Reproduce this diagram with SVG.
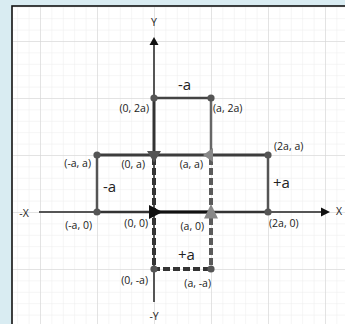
<svg xmlns="http://www.w3.org/2000/svg" width="345" height="324" viewBox="0 0 345 324">
<defs>
<pattern id="minor" patternUnits="userSpaceOnUse" x="40" y="41" width="11.4" height="11.4">
<path d="M0 0V11.4M0 0H11.4" fill="none" stroke="#ebebeb" stroke-width="1"/>
</pattern>
<pattern id="major" patternUnits="userSpaceOnUse" x="40" y="41" width="57" height="57">
<path d="M0 0V57M0 0H57" fill="none" stroke="#d2d2d2" stroke-width="1"/>
</pattern>
<clipPath id="panel"><rect x="13" y="7" width="340" height="330"/></clipPath>
</defs>
<style>
.lbl{font-family:"Open Sans","DejaVu Sans",sans-serif;font-size:10.5px;fill:#222}
.big{font-family:"Open Sans","DejaVu Sans",sans-serif;font-size:15px;fill:#222}
.dot{fill:#555}
.axis{stroke:#555;stroke-width:2;fill:none}
.solid{fill:none;stroke-linecap:butt}
.dash{fill:none;stroke-width:4;stroke-dasharray:7 3}
</style>
<rect x="0" y="0" width="345" height="324" fill="#d9ecf2"/>
<rect x="12" y="6" width="340" height="330" fill="#fff" stroke="#111" stroke-width="1.6"/>
<g clip-path="url(#panel)">
<rect x="13" y="7" width="340" height="330" fill="url(#minor)"/>
<rect x="13" y="7" width="340" height="330" fill="url(#major)"/>
</g>
<g id="axes">
<line class="axis" x1="39" y1="212" x2="323" y2="212"/>
<polygon points="321,207.5 330,212 321,216.5" fill="#111"/>
<line class="axis" x1="154" y1="302" x2="154" y2="44"/>
<polygon points="149.5,45 154,37 158.5,45" fill="#111"/>
<text class="lbl" x="154" y="26" text-anchor="middle">Y</text>
<text class="lbl" x="154" y="320" text-anchor="middle">-Y</text>
<text class="lbl" x="339" y="215" text-anchor="middle">X</text>
<text class="lbl" x="24" y="217" text-anchor="middle">-X</text>
</g>
<g id="connectors">
<line class="solid" x1="97" y1="155" x2="268" y2="155" stroke="#3d3d3d" stroke-width="3"/>
<line class="solid" x1="97" y1="155" x2="97" y2="212" stroke="#555" stroke-width="2.5"/>
<line class="solid" x1="268" y1="155" x2="268" y2="212" stroke="#555" stroke-width="2.5"/>
<line class="solid" x1="97" y1="212" x2="268" y2="212" stroke="#333" stroke-width="2.5"/>
<line class="solid" x1="154" y1="212" x2="211" y2="212" stroke="#111" stroke-width="3"/>
<line class="solid" x1="154" y1="98" x2="211" y2="98" stroke="#444" stroke-width="2.5"/>
<line class="solid" x1="154" y1="98" x2="154" y2="155" stroke="#333" stroke-width="3"/>
<line class="solid" x1="211" y1="98" x2="211" y2="155" stroke="#666" stroke-width="2.5"/>
<path class="dash" d="M154 158V269H211" stroke="#333"/>
<path class="dash" d="M211 158V269" stroke="#5a5a5a"/>
<polygon points="147,151 161,151 154,162.5" fill="#555"/>
<polygon points="203,155 213,148 213,162" fill="#888"/>
<polygon points="149,205 162.5,212 149,219" fill="#111"/>
<polygon points="204,218.5 211,204 218,218.5" fill="#888"/>
</g>
<g id="p-0-2a"><circle class="dot" cx="154" cy="98" r="3.6"/><text class="lbl" x="149" y="112" text-anchor="end">(0, 2a)</text></g>
<g id="p-a-2a"><circle class="dot" cx="211" cy="98" r="3.6"/><text class="lbl" x="213" y="112">(a, 2a)</text></g>
<g id="p-ma-a"><circle class="dot" cx="97" cy="155" r="3.6"/><text class="lbl" x="91" y="167" text-anchor="end">(-a, a)</text></g>
<g id="p-0-a"><text class="lbl" x="145" y="168" text-anchor="end">(0, a)</text></g>
<g id="p-a-a"><text class="lbl" x="203" y="168" text-anchor="end">(a, a)</text></g>
<g id="p-2a-a"><circle class="dot" cx="268" cy="155" r="3.6"/><text class="lbl" x="274" y="150">(2a, a)</text></g>
<g id="p-ma-0"><circle class="dot" cx="97" cy="212" r="3.6"/><text class="lbl" x="92" y="229" text-anchor="end">(-a, 0)</text></g>
<g id="p-0-0"><text class="lbl" x="148" y="227" text-anchor="end">(0, 0)</text></g>
<g id="p-a-0"><text class="lbl" x="204" y="230" text-anchor="end">(a, 0)</text></g>
<g id="p-2a-0"><circle class="dot" cx="268" cy="212" r="3.6"/><text class="lbl" x="269" y="227">(2a, 0)</text></g>
<g id="p-0-ma"><circle class="dot" cx="154" cy="269" r="3.6"/><text class="lbl" x="148" y="284" text-anchor="end">(0, -a)</text></g>
<g id="p-a-ma"><circle class="dot" cx="211" cy="269" r="3.6"/><text class="lbl" x="211" y="287" text-anchor="end">(a, -a)</text></g>
<g id="steps">
<text class="big" x="178" y="90">-a</text>
<text class="big" x="103" y="192">-a</text>
<text class="big" x="273" y="188">+a</text>
<text class="big" x="178" y="260">+a</text>
</g>
</svg>
